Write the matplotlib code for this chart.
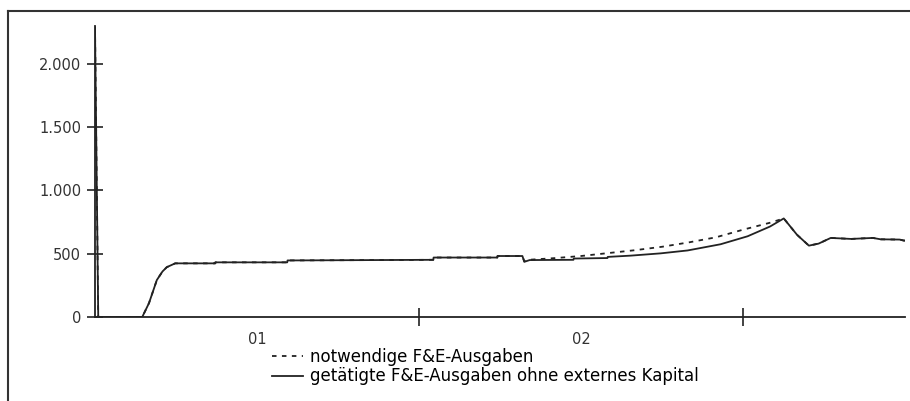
import matplotlib.pyplot as plt
from matplotlib.lines import Line2D

# months since start, F&E-Ausgaben
solidX = [0, 0.12, 1.75, 2.0, 2.29, 2.5, 2.66, 2.97, 4.45, 4.46, 7.12, 7.13, 12.53, 12.54,
          14.9, 14.91, 15.83, 15.9, 16.1, 17.72, 17.73, 18.98, 18.99, 19.84, 20.95, 21.95,
          23.17, 24.17, 25.0, 25.51, 26.0, 26.44, 26.8, 27.25, 28.0, 28.81, 29.1, 29.8, 29.96, 30]
solidY = [2290, 0, 0, 110, 292, 360, 394, 424, 424, 432, 432, 447, 452, 470,
          470, 482, 482, 436, 450, 452, 462, 466, 475, 485, 503, 526,
          575, 638, 715, 779, 650, 564, 580, 625, 617, 625, 614, 612, 604, 604]

dottedX = [0, 0.12, 1.75, 2.0, 2.29, 2.5, 2.66, 2.97, 4.45, 4.46, 7.12, 7.13, 12.53, 12.54,
           14.9, 14.91, 15.83, 15.9, 16.05, 17.0, 18.0, 19.0, 20.0, 21.0, 22.0, 23.0, 24.0,
           25.0, 25.51, 26.0, 26.44, 26.8, 27.25, 28.0, 28.81, 29.1, 29.8, 29.96, 30]
dottedY = [2290, 0, 0, 110, 292, 360, 394, 424, 424, 432, 432, 447, 452, 470,
           470, 482, 482, 440, 452, 465, 482, 505, 528, 555, 590, 630, 690,
           745, 779, 650, 564, 580, 625, 617, 625, 614, 612, 604, 604]

yticks = [0, 500, 1000, 1500, 2000]
yticklabels = ['0', '500', '1.000', '1.500', '2.000']
yearLabels = ['01', '02']

fig = plt.figure(figsize=(9.1, 4.01), dpi=100)
ax = fig.add_axes([95/910, 84/401, 810/910, 291/401])

ax.plot(dottedX, dottedY, color='#222222', lw=1.3, linestyle=(0, (2.5, 3)),
        label='notwendige F&E-Ausgaben')
ax.plot(solidX, solidY, color='#222222', lw=1.3,
        label='getätigte F&E-Ausgaben ohne externes Kapital')

ax.set_xlim(0, 30)
ax.set_ylim(0, 2300)
ax.spines['top'].set_visible(False)
ax.spines['right'].set_visible(False)
ax.spines['left'].set_color('#222222')
ax.spines['bottom'].set_color('#222222')
ax.spines['left'].set_linewidth(1.3)
ax.spines['bottom'].set_linewidth(1.3)

ax.set_yticks(yticks)
ax.set_yticklabels(yticklabels)
ax.tick_params(axis='y', direction='inout', length=12, width=1.2, color='#222222',
               labelsize=10.5, labelcolor='#333333', pad=4)

ax.set_xticks([12, 24])
ax.set_xticklabels(['', ''])
ax.tick_params(axis='x', which='major', direction='inout', length=13, width=1.2, color='#222222')
ax.set_xticks([6, 18], minor=True)
ax.set_xticklabels(yearLabels, minor=True)
ax.tick_params(axis='x', which='minor', length=0, labelsize=10.5, labelcolor='#333333', pad=11)

# outer frame (top and left only)
fig.add_artist(Line2D([8/910, 1], [1 - 11/401, 1 - 11/401], transform=fig.transFigure,
                      color='#333333', lw=1.5))
fig.add_artist(Line2D([8/910, 8/910], [0, 1 - 11/401], transform=fig.transFigure,
                      color='#333333', lw=1.5))

fig.legend(loc='upper left', bbox_to_anchor=(272/910, 1 - 348/401), frameon=False,
           fontsize=12, handlelength=1.85, handletextpad=0.45, labelspacing=0.08,
           borderaxespad=0, borderpad=0)

fig.savefig('out.png', dpi=100)
